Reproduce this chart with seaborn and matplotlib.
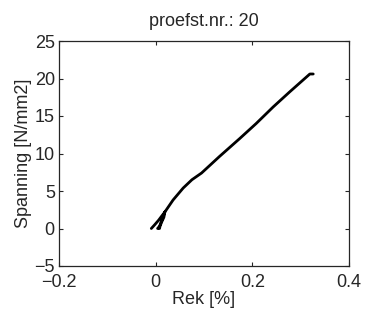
import matplotlib
matplotlib.use("Agg")
import matplotlib.pyplot as plt
import seaborn as sns
import pandas as pd

strain = [-0.009, -0.002, 0.006, 0.013, 0.019, 0.017, 0.012, 0.009, 0.008, 0.004, 0.008, 0.019, 0.036, 0.057, 0.075, 0.095, 0.132, 0.174, 0.208, 0.243, 0.277, 0.305, 0.319, 0.326]
stress = [0.0, 0.5, 1.1, 1.7, 2.2, 1.5, 0.8, 0.3, 0.0, 0.0, 0.3, 2.2, 3.8, 5.4, 6.5, 7.4, 9.6, 12.0, 14.0, 16.2, 18.2, 19.8, 20.6, 20.6]
order = list(range(len(strain)))

sns.set_style("ticks")
plt.rcParams['font.family'] = ['Liberation Sans', 'DejaVu Sans']
plt.rcParams['xtick.direction'] = 'in'
plt.rcParams['ytick.direction'] = 'in'

df = pd.DataFrame({"strain": strain, "stress": stress, "order": order})

fig = plt.figure(figsize=(3.66, 3.21), dpi=100)
ax = fig.add_axes([59/366, 1-266/321, 290/366, 225/321])
sns.lineplot(data=df, x="strain", y="stress", sort=False, estimator=None,
             color="black", linewidth=2.0, ax=ax)
ax.set_xlim(-0.2, 0.4)
ax.set_ylim(-5, 25)
ax.set_xticks([-0.2, 0, 0.2, 0.4])
ax.set_xticklabels(["\u22120.2", "0", "0.2", "0.4"])
ax.set_yticks([-5, 0, 5, 10, 15, 20, 25])
ax.set_yticklabels(["\u22125", "0", "5", "10", "15", "20", "25"])
ax.tick_params(axis="both", labelsize=13, length=3, width=0.8, top=True, right=True)
ax.tick_params(axis="x", pad=6)
ax.tick_params(axis="y", pad=3)
for s in ax.spines.values():
    s.set_visible(True)
    s.set_linewidth(0.9)
ax.set_xlabel("Rek [%]", fontsize=13, labelpad=0)
ax.set_ylabel("Spanning [N/mm2]", fontsize=13, labelpad=2)
ax.set_title("proefst.nr.: 20", fontsize=13, pad=11)
fig.savefig("out.png", dpi=100)
